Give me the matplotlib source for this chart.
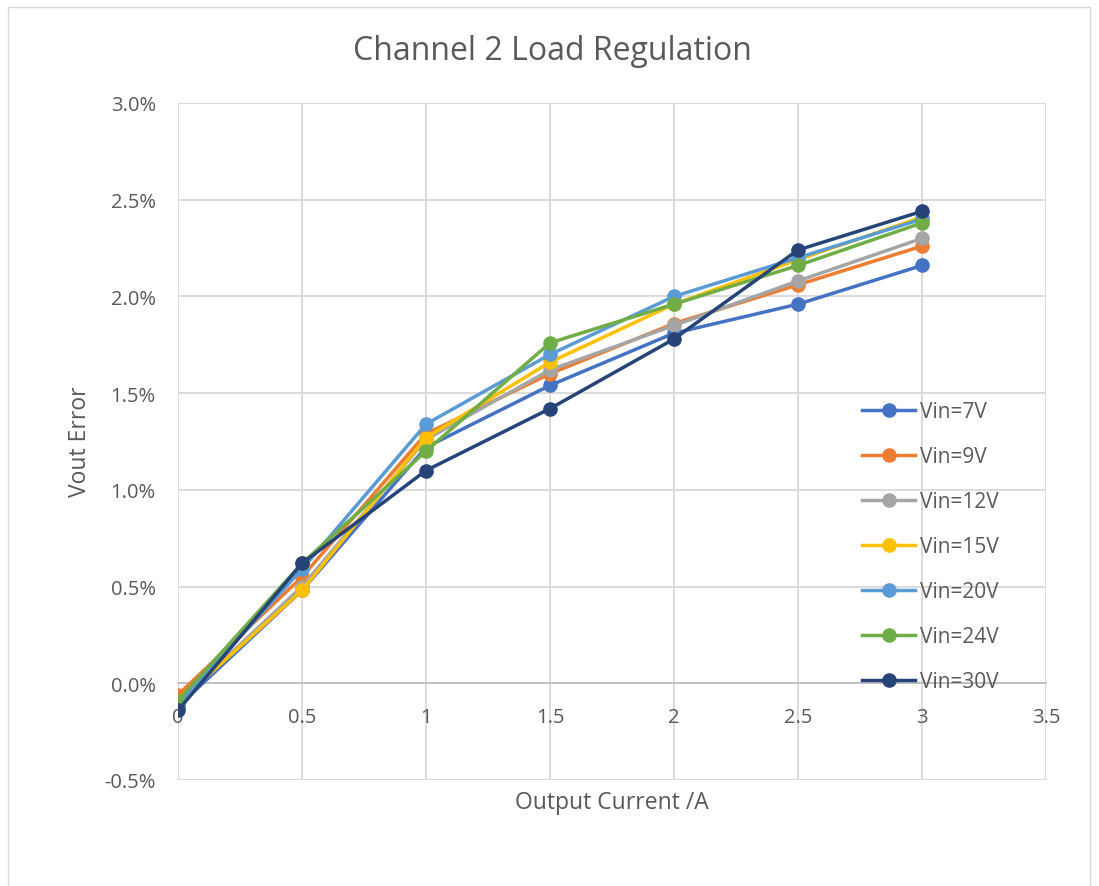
import numpy as np
import matplotlib
matplotlib.use("Agg")
import matplotlib.pyplot as plt
from matplotlib.patches import Rectangle
from matplotlib.ticker import FuncFormatter

plt.rcParams['font.family'] = ['Open Sans', 'DejaVu Sans']

# output current, A
current = [0, 0.5, 1, 1.5, 2, 2.5, 3]

# vout error in %
err_7v = [-0.12, 0.48, 1.22, 1.54, 1.81, 1.96, 2.16]
err_9v = [-0.06, 0.55, 1.29, 1.60, 1.86, 2.06, 2.26]
err_12v = [-0.10, 0.50, 1.26, 1.62, 1.85, 2.08, 2.30]
err_15v = [-0.10, 0.48, 1.27, 1.66, 1.96, 2.19, 2.41]
err_20v = [-0.11, 0.59, 1.34, 1.70, 2.00, 2.20, 2.40]
err_24v = [-0.09, 0.62, 1.20, 1.76, 1.96, 2.16, 2.38]
err_30v = [-0.14, 0.62, 1.10, 1.42, 1.78, 2.24, 2.44]

labels = ['Vin=7V', 'Vin=9V', 'Vin=12V', 'Vin=15V', 'Vin=20V', 'Vin=24V', 'Vin=30V']
colors = ['#4472C4', '#ED7D31', '#A5A5A5', '#FFC000', '#5B9BD5', '#70AD47', '#264478']
series = [err_7v, err_9v, err_12v, err_15v, err_20v, err_24v, err_30v]

fig = plt.figure(figsize=(10.99, 8.87), dpi=100)
# chart area border
fig.patches.append(Rectangle((8/1099, -0.05), 1082/1099, 1 - 8/887 + 0.05,
                             transform=fig.transFigure, fill=False,
                             edgecolor='#D9D9D9', linewidth=1.0))

ax = fig.add_axes([178/1099, 1 - 781/887, (1046 - 178)/1099, (781 - 104)/887])

for vals, lab, c in zip(series, labels, colors):
    ax.plot(current, vals, color=c, linewidth=2.5, marker='o', markersize=9.5,
            label=lab, zorder=3)

ax.set_xlim(0, 3.5)
ax.set_ylim(-0.5, 3.0)
ax.set_xticks(np.arange(0, 3.51, 0.5))
ax.set_yticks(np.arange(-0.5, 3.01, 0.5))
ax.xaxis.set_major_formatter(FuncFormatter(lambda v, p: '%g' % v))
ax.yaxis.set_major_formatter(FuncFormatter(lambda v, p: '%.1f%%' % v))

ax.grid(True, color='#D9D9D9', linewidth=1.3, zorder=0)
ax.set_axisbelow(True)
for s in ['top', 'right', 'left']:
    ax.spines[s].set_visible(False)
ax.spines['bottom'].set_position(('data', 0))
ax.spines['bottom'].set_color('#BFBFBF')
ax.spines['bottom'].set_linewidth(1.3)
ax.spines['bottom'].set_zorder(1)
ax.tick_params(axis='both', length=0, labelsize=14.5, labelcolor='#595959')
ax.tick_params(axis='x', pad=17)
ax.tick_params(axis='y', pad=16)

fig.text(552/1099, 1 - 52/887, 'Channel 2 Load Regulation', ha='center', va='center',
         fontsize=23, color='#595959')
fig.text(612/1099, 1 - 803/887, 'Output Current /A', ha='center', va='center',
         fontsize=16.5, color='#595959')
fig.text(80/1099, 1 - 442/887, 'Vout Error', ha='center', va='center',
         fontsize=16.5, color='#595959', rotation=90)

ax.legend(loc='upper left', bbox_to_anchor=(854/1099, 1 - 394/887),
          bbox_transform=fig.transFigure, frameon=False, fontsize=15,
          labelcolor='#595959', handlelength=2.55, handletextpad=0.2,
          labelspacing=1.15, borderaxespad=0)

fig.savefig('out.png', dpi=100)
